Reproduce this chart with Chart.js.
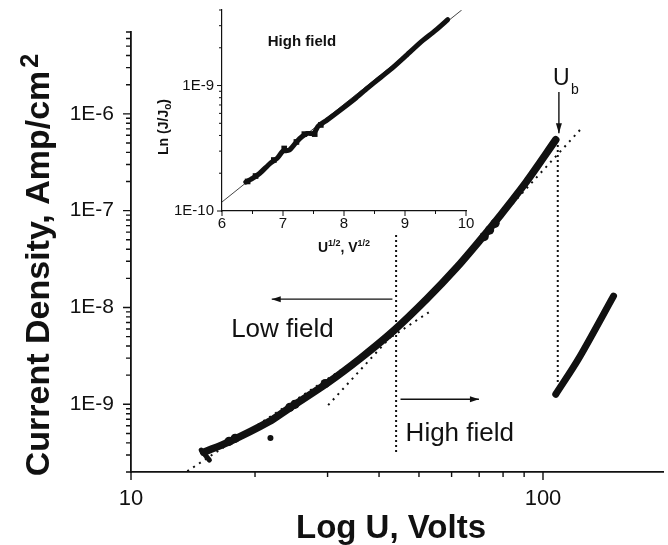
<!DOCTYPE html>
<html>
<head>
<meta charset="utf-8">
<script src="https://cdn.jsdelivr.net/npm/chart.js@4.4.0/dist/chart.umd.min.js"></script>
<style>
  html, body { margin: 0; padding: 0; background: #fff; }
  #wrap { position: relative; width: 668px; height: 545px; }
  #wrap canvas { position: absolute; left: 0; top: 0; }
</style>
</head>
<body>
<div id="wrap">
  <canvas id="mainChart" width="668" height="545"></canvas>
  <canvas id="insetChart" width="668" height="545"></canvas>
</div>
<script>
const INK = '#111';
const FONT = '"Liberation Sans", Arial, Helvetica, sans-serif';

// ---- main plot: current density vs voltage (log-log) ----
const curveU = [15.0, 17.3, 21.6, 24.1, 30.1, 36.1, 43.5, 52.4, 61.8, 70.2, 78.4, 91.0, 107.4];
const curveJ = [3.2e-10, 4.1e-10, 6.6e-10, 9.0e-10, 1.68e-9, 3.0e-9, 5.8e-9, 1.24e-8, 2.6e-8, 4.9e-8, 8.7e-8, 1.97e-7, 5.4e-7];
const blobU = [17.3, 17.9, 24.3, 25.0, 29.6, 72.0, 74.2, 76.5];
const blobJ = [4.15e-10, 4.45e-10, 9.3e-10, 1.0e-9, 1.64e-9, 5.4e-8, 6.3e-8, 7.4e-8];
const startU = [14.8, 15.5];
const startJ = [3.37e-10, 2.65e-10];
const strayU = [21.8];
const strayJ = [4.5e-10];
const branchU = [107.4, 122.0, 148.3];
const branchJ = [1.27e-9, 2.95e-9, 1.31e-8];

// fitted lines and markers
const lowFitU = [13.7, 52.9];
const lowFitJ = [2.04e-10, 8.95e-9];
const highFitU = [30.1, 124.8];
const highFitJ = [9.8e-10, 7.3e-7];
const crossU = [44.0, 44.0];
const crossJ = [5.6e-8, 3.2e-10];
const breakU = [108.6, 108.6];
const breakJ = [4.77e-7, 1.66e-9];

const xMajor = [10, 100];
const xMinor = [20, 30, 40, 50, 60, 70, 80, 90];
const yMajor = [1e-9, 1e-8, 1e-7, 1e-6];
const yMinor = [2e-10, 3e-10, 4e-10, 5e-10, 6e-10, 7e-10, 8e-10, 9e-10,
                2e-9, 3e-9, 4e-9, 5e-9, 6e-9, 7e-9, 8e-9, 9e-9,
                2e-8, 3e-8, 4e-8, 5e-8, 6e-8, 7e-8, 8e-8, 9e-8,
                2e-7, 3e-7, 4e-7, 5e-7, 6e-7, 7e-7, 8e-7, 9e-7,
                2e-6, 3e-6, 4e-6, 5e-6, 6e-6, 7e-6];

// ---- inset: ln(J/J0) vs sqrt(U) ----
const insetX = [6.39, 6.50, 6.62, 6.79, 6.90, 7.00, 7.10, 7.20, 7.28, 7.40, 7.50, 7.58, 7.72, 7.98, 8.20, 8.38, 8.60, 8.80, 9.00, 9.25, 9.50, 9.70];
const insetJ = [1.70e-10, 1.82e-10, 2.00e-10, 2.40e-10, 2.62e-10, 3.00e-10, 3.05e-10, 3.45e-10, 3.80e-10, 4.15e-10, 4.15e-10, 4.75e-10, 5.30e-10, 6.60e-10, 8.0e-10, 9.5e-10, 1.16e-9, 1.39e-9, 1.70e-9, 2.20e-9, 2.75e-9, 3.35e-9];
const insetBlobX = [6.42, 6.55, 6.85, 7.02, 7.22, 7.35, 7.52, 7.62];
const insetBlobJ = [1.72e-10, 1.9e-10, 2.55e-10, 3.15e-10, 3.55e-10, 4.1e-10, 4.1e-10, 4.85e-10];
const insetFitX = [6.0, 9.93];
const insetFitJ = [1.18e-10, 4.0e-9];

const insetXMajor = [6, 7, 8, 9, 10];
const insetXMinor = [6.5, 7.5, 8.5, 9.5];
const insetYMajor = [1e-10, 1e-9];
const insetYMinor = [2e-10, 3e-10, 4e-10, 5e-10, 6e-10, 7e-10, 8e-10, 9e-10, 2e-9, 3e-9, 4e-9];

const pts = (xs, ys) => xs.map((x, i) => ({ x: x, y: ys[i] }));

function arrow(ctx, x1, y1, x2, y2, len, half) {
  ctx.beginPath();
  ctx.moveTo(x1, y1);
  ctx.lineTo(x2, y2);
  ctx.stroke();
  const a = Math.atan2(y2 - y1, x2 - x1);
  const bx = x2 - len * Math.cos(a), by = y2 - len * Math.sin(a);
  ctx.beginPath();
  ctx.moveTo(x2, y2);
  ctx.lineTo(bx + half * Math.sin(a), by - half * Math.cos(a));
  ctx.lineTo(bx - half * Math.sin(a), by + half * Math.cos(a));
  ctx.closePath();
  ctx.fill();
}

// keep the plot box where the layout padding puts it
function fixBox(size, horizontal) {
  return s => {
    if (horizontal) s.height = size; else s.width = size;
    s.paddingTop = 0; s.paddingBottom = 0; s.paddingLeft = 0; s.paddingRight = 0;
  };
}

// tick marks drawn outward, long for decades and short for the rest
function tickMarks(cfg) {
  return {
    id: 'tickMarks',
    afterDraw(chart) {
      const { ctx, scales: { x, y } } = chart;
      ctx.save();
      ctx.strokeStyle = INK;
      ctx.lineWidth = cfg.width;
      ctx.beginPath();
      cfg.xMajor.forEach(v => { const p = x.getPixelForValue(v); ctx.moveTo(p, x.top); ctx.lineTo(p, x.top + cfg.major); });
      cfg.xMinor.forEach(v => { const p = x.getPixelForValue(v); ctx.moveTo(p, x.top); ctx.lineTo(p, x.top + cfg.minor); });
      cfg.yMajor.forEach(v => { const p = y.getPixelForValue(v); ctx.moveTo(y.right, p); ctx.lineTo(y.right - cfg.major, p); });
      cfg.yMinor.forEach(v => { const p = y.getPixelForValue(v); ctx.moveTo(y.right, p); ctx.lineTo(y.right - cfg.minor, p); });
      ctx.stroke();
      ctx.restore();
    }
  };
}

const mainNotes = {
  id: 'mainNotes',
  afterDraw(chart) {
    const { ctx, scales: { x, y } } = chart;
    const px = v => x.getPixelForValue(v), py = v => y.getPixelForValue(v);
    ctx.save();
    ctx.fillStyle = INK;
    ctx.strokeStyle = INK;
    ctx.lineWidth = 1.4;
    arrow(ctx, px(43.1), py(1.22e-8), px(21.96), py(1.22e-8), 9, 3);
    arrow(ctx, px(45.1), py(1.13e-9), px(69.9), py(1.13e-9), 9, 3);
    arrow(ctx, px(109.3), py(1.68e-6), px(109.3), py(6.3e-7), 10, 3);

    ctx.textAlign = 'left';
    ctx.textBaseline = 'alphabetic';
    ctx.font = '26px ' + FONT;
    ctx.fillText('Low field', px(17.5), py(4.94e-9));
    ctx.fillText('High field', px(46.4), py(4.17e-10));
    ctx.font = '23px ' + FONT;
    ctx.fillText('U', px(105.7), py(1.98e-6));
    ctx.font = '14px ' + FONT;
    ctx.fillText('b', px(105.7) + 18, py(1.98e-6) + 9);

    // axis titles
    ctx.font = 'bold 33px ' + FONT;
    ctx.textAlign = 'center';
    ctx.fillText('Log U, Volts', 391, 538);

    ctx.save();
    ctx.translate(49, 265);
    ctx.rotate(-Math.PI / 2);
    const title = 'Current Density, Amp/cm';
    ctx.font = 'bold 34px ' + FONT;
    const w1 = ctx.measureText(title).width;
    ctx.font = 'bold 25px ' + FONT;
    const w2 = ctx.measureText('2').width;
    const x0 = -(w1 + w2 + 3) / 2;
    ctx.textAlign = 'left';
    ctx.font = 'bold 34px ' + FONT;
    ctx.fillText(title, x0, 0);
    ctx.font = 'bold 25px ' + FONT;
    ctx.fillText('2', x0 + w1 + 3, -11);
    ctx.restore();
    ctx.restore();
  }
};

const insetNotes = {
  id: 'insetNotes',
  afterDraw(chart) {
    const { ctx, scales: { x, y } } = chart;
    ctx.save();
    ctx.fillStyle = INK;
    ctx.textBaseline = 'alphabetic';
    ctx.textAlign = 'left';
    ctx.font = 'bold 15px ' + FONT;
    ctx.fillText('High field', x.getPixelForValue(6.75), y.getPixelForValue(2.07e-9));

    // x title: U^1/2, V^1/2
    const parts = [['U', 14, 0], ['1/2', 9, -6], [', V', 14, 0], ['1/2', 9, -6]];
    let total = 0;
    parts.forEach(p => { ctx.font = 'bold ' + p[1] + 'px ' + FONT; total += ctx.measureText(p[0]).width; });
    let cx = (x.left + x.right) / 2 - total / 2;
    parts.forEach(p => {
      ctx.font = 'bold ' + p[1] + 'px ' + FONT;
      ctx.fillText(p[0], cx, 252 + p[2]);
      cx += ctx.measureText(p[0]).width;
    });

    // y title: Ln (J/J0)
    ctx.save();
    ctx.translate(168, 127);
    ctx.rotate(-Math.PI / 2);
    const yparts = [['Ln (J/J', 14, 0], ['o', 10, 3], [')', 14, 0]];
    let tw = 0;
    yparts.forEach(p => { ctx.font = 'bold ' + p[1] + 'px ' + FONT; tw += ctx.measureText(p[0]).width; });
    let cy = -tw / 2;
    yparts.forEach(p => {
      ctx.font = 'bold ' + p[1] + 'px ' + FONT;
      ctx.fillText(p[0], cy, p[2]);
      cy += ctx.measureText(p[0]).width;
    });
    ctx.restore();
    ctx.restore();
  }
};

const expLabel = v => '1E' + Math.round(Math.log10(v));

new Chart(document.getElementById('mainChart'), {
  type: 'scatter',
  data: {
    datasets: [
      { data: pts(curveU, curveJ), showLine: true, borderColor: INK, borderWidth: 7.5, pointRadius: 0,
        tension: 0.3, borderCapStyle: 'round' },
      { data: pts(blobU, blobJ), pointRadius: 4.6, backgroundColor: INK, borderWidth: 0 },
      { data: pts(startU, startJ), showLine: true, borderColor: INK, borderWidth: 5, pointRadius: 0, borderCapStyle: 'round' },
      { data: pts(strayU, strayJ), pointRadius: 3, backgroundColor: INK, borderWidth: 0 },
      { data: pts(branchU, branchJ), showLine: true, borderColor: INK, borderWidth: 7, pointRadius: 0,
        tension: 0.3, borderCapStyle: 'round' },
      { data: pts(lowFitU, lowFitJ), showLine: true, borderColor: INK, borderWidth: 2, borderDash: [2, 5], pointRadius: 0 },
      { data: pts(highFitU, highFitJ), showLine: true, borderColor: INK, borderWidth: 2, borderDash: [2, 5], pointRadius: 0 },
      { data: pts(crossU, crossJ), showLine: true, borderColor: INK, borderWidth: 2, borderDash: [2, 3], pointRadius: 0 },
      { data: pts(breakU, breakJ), showLine: true, borderColor: INK, borderWidth: 2, borderDash: [2, 3], pointRadius: 0 }
    ]
  },
  options: {
    responsive: false,
    animation: false,
    devicePixelRatio: 1,
    layout: { padding: { top: 32, right: 0, left: 0, bottom: 0 } },
    plugins: { legend: { display: false }, tooltip: { enabled: false } },
    scales: {
      x: {
        type: 'logarithmic', min: 10, max: 196,
        afterFit: fixBox(73, true),
        afterBuildTicks: s => { s.ticks = xMajor.map(v => ({ value: v })); },
        grid: { display: false, drawTicks: false },
        border: { display: true, color: INK, width: 1.8 },
        ticks: { color: INK, font: { family: FONT, size: 22 }, padding: 14, maxRotation: 0,
                 callback: v => String(v) }
      },
      y: {
        type: 'logarithmic', min: 2e-10, max: 7e-6,
        afterFit: fixBox(131, false),
        afterBuildTicks: s => { s.ticks = yMajor.map(v => ({ value: v })); },
        grid: { display: false, drawTicks: false },
        border: { display: true, color: INK, width: 1.8 },
        ticks: { color: INK, font: { family: FONT, size: 21 }, padding: 17, callback: expLabel }
      }
    }
  },
  plugins: [tickMarks({ xMajor: xMajor, xMinor: xMinor, yMajor: yMajor, yMinor: yMinor, major: 8, minor: 5, width: 1.4 }), mainNotes]
});

new Chart(document.getElementById('insetChart'), {
  type: 'scatter',
  data: {
    datasets: [
      { data: pts(insetX, insetJ), showLine: true, borderColor: INK, borderWidth: 5, pointRadius: 0,
        tension: 0.2, borderCapStyle: 'round' },
      { data: pts(insetBlobX, insetBlobJ), pointStyle: 'rect', pointRadius: 4, backgroundColor: INK, borderWidth: 0 },
      { data: pts(insetFitX, insetFitJ), showLine: true, borderColor: '#444', borderWidth: 1, pointRadius: 0 }
    ]
  },
  options: {
    responsive: false,
    animation: false,
    devicePixelRatio: 1,
    layout: { padding: { top: 10, right: 202, left: 162, bottom: 294 } },
    plugins: { legend: { display: false }, tooltip: { enabled: false } },
    scales: {
      x: {
        type: 'linear', min: 6, max: 10,
        afterFit: fixBox(40, true),
        afterBuildTicks: s => { s.ticks = insetXMajor.map(v => ({ value: v })); },
        grid: { display: false, drawTicks: false },
        border: { display: true, color: INK, width: 1.2 },
        ticks: { color: INK, font: { family: FONT, size: 15 }, padding: 4, maxRotation: 0,
                 callback: v => String(v) }
      },
      y: {
        type: 'logarithmic', min: 1e-10, max: 4e-9,
        afterFit: fixBox(60, false),
        afterBuildTicks: s => { s.ticks = insetYMajor.map(v => ({ value: v })); },
        grid: { display: false, drawTicks: false },
        border: { display: true, color: INK, width: 1.2 },
        ticks: { color: INK, font: { family: FONT, size: 15 }, padding: 8, callback: expLabel }
      }
    }
  },
  plugins: [tickMarks({ xMajor: insetXMajor, xMinor: insetXMinor, yMajor: insetYMajor, yMinor: insetYMinor, major: 5, minor: 3, width: 1 }), insetNotes]
});
</script>
</body>
</html>
